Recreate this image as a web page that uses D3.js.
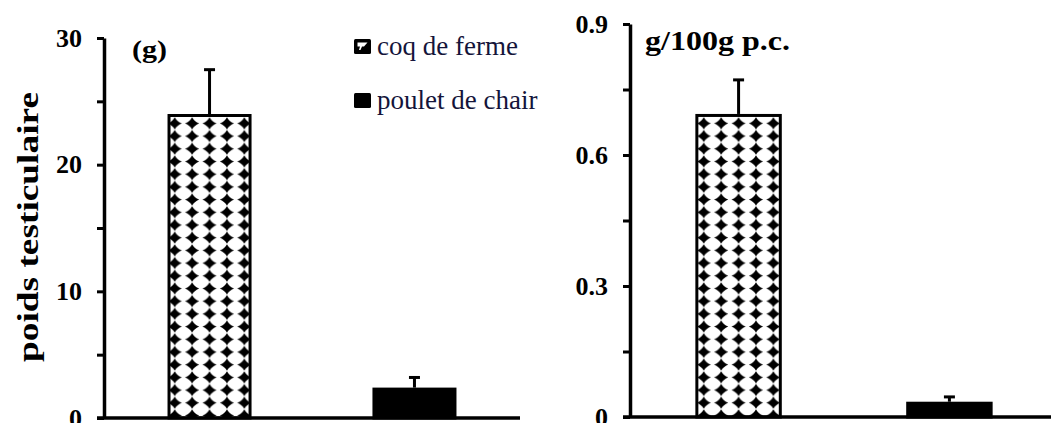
<!DOCTYPE html>
<html lang="fr">
<head>
<meta charset="UTF-8">
<title>poids testiculaire</title>
<script src="https://cdnjs.cloudflare.com/ajax/libs/d3/7.8.5/d3.min.js"></script>
<style>
  body { margin: 0; background: #fff; }
  svg { display: block; }
  svg text { font-family: "Times New Roman", Times, "Liberation Serif", Tinos, serif; }
</style>
</head>
<body>
<svg id="chart" width="1051" height="423"></svg>
<script>
  // data
  const categories = ['coq de ferme', 'poulet de chair'];

  // left panel: absolute weight (g)
  const weightG = [24, 2.4];
  const weightGErr = [3.5, 0.8];
  const leftTicks = [0, 5, 10, 15, 20, 25, 30];
  const leftLabels = [0, 10, 20, 30];

  // right panel: relative weight (g/100g p.c.)
  const weightRel = [0.694, 0.035];
  const weightRelErr = [0.078, 0.011];
  const rightTicks = [0, 0.15, 0.3, 0.45, 0.6, 0.75, 0.9];
  const rightLabels = [0, 0.3, 0.6, 0.9];

  const svg = d3.select('#chart');

  // diamond pattern used by the first group
  const defs = svg.append('defs');
  const cellW = 17.4, cellH = 12.7;

  function diamondPattern(id, x0, y0) {
    const p = defs.append('pattern')
      .attr('id', id)
      .attr('patternUnits', 'userSpaceOnUse')
      .attr('x', x0)
      .attr('y', y0)
      .attr('width', cellW)
      .attr('height', cellH);
    p.append('rect').attr('width', cellW).attr('height', cellH).attr('fill', '#fff');
    const cx = cellW / 2, cy = cellH / 2, rx = 7.0, ry = 6.2, k = 2.1;
    p.append('path')
      .attr('d', `M${cx},${cy - ry} Q${cx + k},${cy - k} ${cx + rx},${cy}
                  Q${cx + k},${cy + k} ${cx},${cy + ry}
                  Q${cx - k},${cy + k} ${cx - rx},${cy}
                  Q${cx - k},${cy - k} ${cx},${cy - ry} Z`)
      .attr('fill', '#000');
  }

  function panel(opts) {
    const { id, xRange, yRange, domainMax, values, errs, ticks, labels, fmt } = opts;

    const x = d3.scaleBand()
      .domain(categories)
      .range(xRange)
      .paddingInner(0.59)
      .paddingOuter(0.31);

    const y = d3.scaleLinear()
      .domain([0, domainMax])
      .range(yRange);

    const g = svg.append('g');

    // bars
    values.forEach((v, i) => {
      const c = categories[i];
      const bx = x(c), bw = x.bandwidth();
      const top = y(v);
      let fill = '#000';
      if (i === 0) {
        const pid = id + '-pat';
        diamondPattern(pid, bx + bw / 2 - cellW / 2, top + 3);
        fill = `url(#${pid})`;
      }
      g.append('rect')
        .attr('x', bx + 1.5)
        .attr('y', top + 1.5)
        .attr('width', bw - 3)
        .attr('height', y(0) - top - 1.5)
        .attr('fill', fill)
        .attr('stroke', '#000')
        .attr('stroke-width', 3);

      // error bar (upper only)
      const cx = bx + bw / 2;
      const et = y(v + errs[i]);
      g.append('line')
        .attr('x1', cx).attr('x2', cx)
        .attr('y1', top).attr('y2', et)
        .attr('stroke', '#000').attr('stroke-width', 3);
      g.append('line')
        .attr('x1', cx - 5.5).attr('x2', cx + 5.5)
        .attr('y1', et).attr('y2', et)
        .attr('stroke', '#000').attr('stroke-width', 3);
    });

    // y axis
    const yAxis = d3.axisLeft(y)
      .tickValues(ticks)
      .tickSize(7)
      .tickSizeOuter(0)
      .tickPadding(15)
      .tickFormat(d => labels.some(l => Math.abs(l - d) < 1e-9) ? fmt(d) : '');

    const ya = g.append('g')
      .attr('transform', `translate(${xRange[0]},0)`)
      .call(yAxis)
      .attr('font-family', null);
    ya.select('.domain').attr('stroke-width', 3.5);
    ya.selectAll('.tick line').attr('stroke-width', 3);
    ya.selectAll('.tick text')
      .attr('font-size', 26)
      .attr('font-weight', 'bold')
      .attr('fill', '#000');

    // x axis baseline
    g.append('line')
      .attr('x1', xRange[0] - 7)
      .attr('x2', Math.min(xRange[1], 1051))
      .attr('y1', y(0)).attr('y2', y(0))
      .attr('stroke', '#000')
      .attr('stroke-width', 3.5);

    return { x, y };
  }

  panel({
    id: 'left',
    xRange: [104, 520],
    yRange: [418, 38],
    domainMax: 30,
    values: weightG,
    errs: weightGErr,
    ticks: leftTicks,
    labels: leftLabels,
    fmt: d3.format('d')
  });

  panel({
    id: 'right',
    xRange: [630, 1058],
    yRange: [417, 24],
    domainMax: 0.9,
    values: weightRel,
    errs: weightRelErr,
    ticks: rightTicks,
    labels: rightLabels,
    fmt: d => d === 0 ? '0' : d3.format('.1f')(d)
  });

  // unit labels
  svg.append('text')
    .attr('x', 132).attr('y', 58)
    .attr('font-size', 26).attr('font-weight', 'bold')
    .attr('textLength', 35).attr('lengthAdjust', 'spacingAndGlyphs')
    .text('(g)');

  svg.append('text')
    .attr('x', 645).attr('y', 50)
    .attr('font-size', 28).attr('font-weight', 'bold')
    .attr('textLength', 145).attr('lengthAdjust', 'spacingAndGlyphs')
    .text('g/100g p.c.');

  // y axis title
  svg.append('text')
    .attr('transform', 'translate(38,227) rotate(-90)')
    .attr('text-anchor', 'middle')
    .attr('font-size', 30).attr('font-weight', 'bold')
    .attr('textLength', 270).attr('lengthAdjust', 'spacingAndGlyphs')
    .text('poids testiculaire');

  // legend
  const legendY = [39, 93];
  const legend = svg.append('g');
  categories.forEach((c, i) => {
    const lg = legend.append('g').attr('transform', `translate(354,${legendY[i]})`);
    lg.append('rect')
      .attr('width', 17).attr('height', 15)
      .attr('rx', 1.5)
      .attr('fill', '#000');
    if (i === 0) {
      lg.append('path')
        .attr('d', 'M3.5,3.5 H13.5 L10,7.5 H8 L6.5,11 H5 L6,7.5 H3.5 Z')
        .attr('fill', '#fff');
    }
    lg.append('text')
      .attr('x', 23).attr('y', 16)
      .attr('font-size', 27)
      .attr('fill', '#14143a')
      .text(c);
  });
</script>
</body>
</html>
